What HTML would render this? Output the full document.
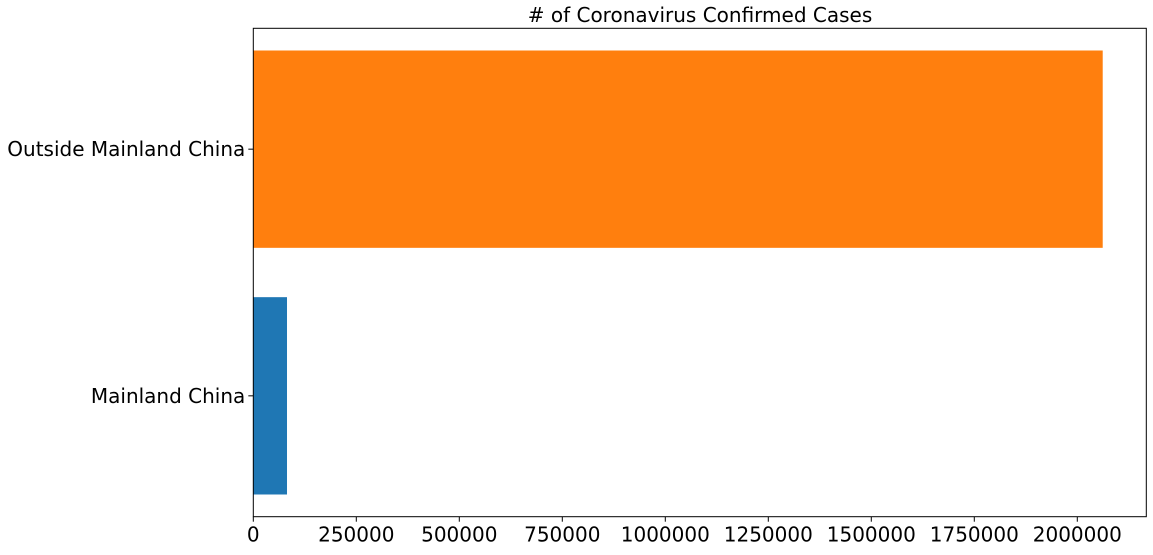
<!DOCTYPE html>
<html><head><meta charset="utf-8"><style>
body{margin:0;background:#fff;font-family:"Liberation Sans","DejaVu Sans",sans-serif;}
svg text{font-family:"DejaVu Sans","Liberation Sans",sans-serif;}
</style></head><body>
<svg id="chart" width="1153" height="550" xmlns="http://www.w3.org/2000/svg">
<rect width="1153" height="550" fill="#fff"/>
<text x="700" y="22" font-size="20" text-anchor="middle">#  of Coronavirus Confirmed Cases</text>
<g id="bars"></g><g id="xticks"></g><g id="yticks"></g>
<rect x="253.3" y="28.3" width="893" height="488.4" fill="none" stroke="#000" stroke-width="1"/>
</svg>
<script>
const categories = ["Mainland China", "Outside Mainland China"];
const values = [81800, 2061700];
const colors = ["#1f77b4", "#ff7f0e"];
const tickValues = [0, 250000, 500000, 750000, 1000000, 1250000, 1500000, 1750000, 2000000];
const tickLabels = ["0","250000","500000","750000","1000000","1250000","1500000","1750000","2000000"];
const xMax = 2167500;
const L=253.3,R=1146.3,T=28.3,B=516.7;
const x=v=>L+(v/xMax)*(R-L);
const y=v=>B-((v+0.49)/1.98)*(B-T);
const NS="http://www.w3.org/2000/svg";
function mk(t,a,p){const e=document.createElementNS(NS,t);for(const k in a)e.setAttribute(k,a[k]);p.appendChild(e);return e;}
const bars=document.getElementById('bars'),xt=document.getElementById('xticks'),yt=document.getElementById('yticks');
const bh=(y(0)-y(0.8));
categories.forEach((c,i)=>{
  const r=mk('rect',{x:x(0),y:y(i)-bh/2,width:x(values[i])-x(0),height:bh,fill:colors[i]},bars);
  
  
  mk('line',{x1:L-5,x2:L,y1:y(i),y2:y(i),stroke:'#000'},yt);
  const t=mk('text',{x:L-8,y:y(i)+7,'font-size':20,'text-anchor':'end'},yt);
  t.textContent=c;
  
  
});
tickValues.forEach((v,i)=>{
  mk('line',{x1:x(v),x2:x(v),y1:B,y2:B+5,stroke:'#000'},xt);
  const t=mk('text',{x:x(v),y:B+25,'font-size':20,'text-anchor':'middle'},xt);
  t.textContent=tickLabels[i];
  
  
});
</script>
</body></html>
